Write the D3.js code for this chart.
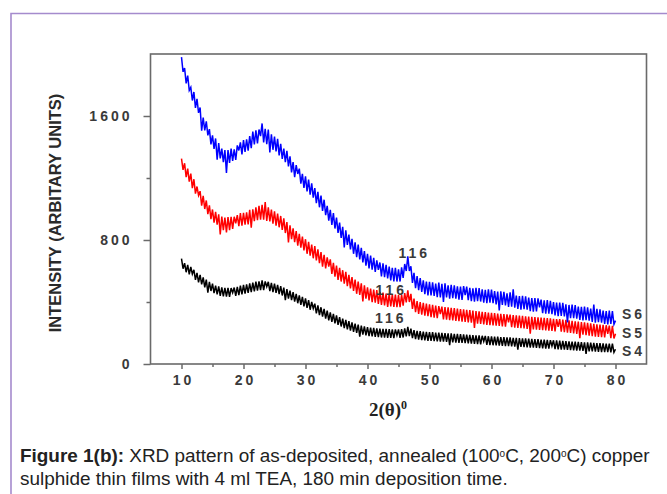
<!DOCTYPE html>
<html>
<head>
<meta charset="utf-8">
<script src="https://cdn.jsdelivr.net/npm/d3@7"></script>
<style>
  body { margin: 0; background: #fff; }
  svg { display: block; }
</style>
</head>
<body>
<script>
// 2theta sampling grid (degrees), 0.25 deg step
const twoTheta = d3.range(10, 80.001, 0.25);

// intensities (arbitrary units), 4 samples per degree
const s6 = [
  1980,1885,1910,1810, 1860,1765,1785,1700, 1755,1652,1710,1620, 1655,1545,1590,1507,
  1565,1475,1515,1417, 1475,1388,1455,1363, 1425,1327,1390,1302, 1380,1232,1380,1297,
  1390,1310,1385,1317, 1410,1343,1430,1352, 1445,1368,1450,1377, 1470,1393,1500,1417,
  1508,1423,1513,1425, 1552,1430,1518,1418, 1513,1405,1482,1382, 1467,1372,1452,1346,
  1420,1323,1390,1302, 1375,1275,1340,1236, 1302,1205,1283,1191, 1260,1163,1227,1136,
  1210,1113,1190,1092, 1165,1073,1135,1037, 1110,1011,1087,988, 1060,960,1020,925,
  995,897,973,874, 945,846,912,813, 885,787,863,769, 835,739,808,711,
  785,690,770,675, 750,656,728,634, 710,617,700,608, 685,594,668,577,
  655,565,650,560, 640,552,628,539, 620,533,620,532, 610,532,623,555,
  645,600,695,600, 630,523,588,490, 567,476,555,465, 540,451,532,443,
  530,443,527,440, 518,431,525,429, 517,431,520,429, 508,422,511,424,
  508,422,501,415, 500,413,502,415, 499,412,491,405, 488,402,491,405,
  490,403,482,395, 479,393,482,396, 480,393,471,384, 467,380,469,382,
  465,378,456,369, 462,370,452,364, 441,355,438,351, 440,353,436,350,
  428,341,425,338, 426,340,423,336, 415,328,411,324, 412,325,408,321,
  400,313,396,309, 397,310,394,307, 385,298,381,295, 383,296,380,293,
  371,285,368,281, 370,283,366,280, 358,271,354,267, 356,270,353,266,
  345,258,342,255, 344,258,342,256, 280];

const s5 = [
  1325,1253,1295,1205, 1260,1176,1228,1135, 1192,1099,1145,1058, 1115,1022,1085,1000,
  1055,967,1023,935, 997,912,982,899, 966,876,951,863, 945,849,948,864,
  950,872,950,873, 960,889,973,892, 975,899,978,901, 995,914,998,922,
  1010,928,1020,931, 1027,931,1010,923, 1010,920,996,905, 985,893,970,882,
  955,865,940,845, 915,820,895,805, 875,786,858,764, 840,751,822,733,
  805,711,788,699, 770,682,760,668, 740,651,722,628, 705,616,688,599,
  675,581,652,563, 635,543,620,532, 605,518,595,502, 575,488,560,472,
  545,453,532,446, 520,434,507,421, 495,411,487,399, 480,396,477,388,
  465,382,460,378, 455,369,452,371, 450,368,447,366, 445,366,448,377,
  458,398,475,400, 452,356,422,334, 406,323,400,318, 395,312,390,308,
  385,303,381,299, 377,295,374,292, 370,288,367,286, 365,283,362,281,
  360,278,357,276, 355,273,352,271, 350,268,347,266, 345,263,342,261,
  340,258,337,256, 335,253,332,251, 330,249,328,247, 326,245,324,243,
  322,241,320,239, 318,237,316,235, 314,233,312,231, 310,229,308,227,
  306,225,304,223, 302,221,301,220, 300,219,298,217, 296,215,294,213,
  292,211,290,210, 289,208,287,206, 285,203,282,200, 279,197,276,194,
  273,191,270,189, 268,186,265,183, 262,180,259,177, 256,175,254,173,
  252,171,250,169, 248,167,246,165, 195];

const s4 = [
  680,615,650,592, 640,579,626,560, 608,543,588,527, 575,514,559,495,
  544,481,530,471, 518,457,506,449, 501,440,495,437, 491,434,491,433,
  490,435,493,439, 498,444,505,449, 510,454,513,459, 520,464,525,469,
  532,474,533,476, 540,476,533,474, 530,470,523,464, 518,459,511,451,
  503,442,493,432, 483,422,473,412, 463,402,453,392, 443,382,433,372,
  423,362,412,350, 400,338,389,327, 378,316,366,305, 355,293,344,282,
  333,272,323,262, 313,252,303,242, 293,232,284,224, 276,216,268,208,
  260,201,254,195, 248,189,243,184, 238,180,235,178, 233,175,230,173,
  228,171,227,170, 226,169,225,168, 224,167,223,167, 223,168,225,171,
  230,178,240,180, 228,167,218,160, 214,157,212,154, 209,152,207,150,
  206,149,205,148, 203,146,202,145, 201,144,199,142, 198,141,197,140,
  195,138,194,137, 193,136,191,134, 190,133,188,131, 187,130,185,128,
  184,127,182,125, 181,124,179,122, 178,121,177,120, 176,119,174,117,
  173,116,172,115, 171,114,169,112, 168,111,167,110, 166,109,165,108,
  163,106,162,105, 161,104,160,103, 158,101,157,100, 156,99,154,98,
  153,96,152,95, 150,93,149,92, 148,91,146,89, 145,88,144,87,
  143,86,141,84, 140,83,139,82, 138,81,137,80, 135,78,134,77,
  133,76,132,76, 131,75,131,75, 95];

// extra jitter read as spikes along the traces (2theta, intensity offset)
const spikesS6 = [[13.25, -40], [15.75, -45], [19.25, 35], [22.75, 45], [24.25, -40], [28.75, 35], [36.25, -35],
  [41.75, 30], [52.25, -30], [55.75, 30], [61.25, -35], [63.5, 30], [67.75, 30], [72.25, -30], [76.5, 30]];
const spikesS5 = [[12.75, 30], [16.25, -40], [18.75, 35], [21.25, -35], [23.5, 35], [27.25, -35], [33.75, 30],
  [39.25, -30], [51.75, 30], [57.25, -30], [62.75, 30], [66.25, -30], [70.75, 30], [74.25, -25], [78.75, 25]];
const spikesS4 = [[11.75, 20], [14.25, -20], [18.25, 25], [23.75, 25], [26.75, -20], [31.25, 20], [38.75, -18],
  [44.75, 18], [53.25, -20], [58.75, 20], [64.25, -18], [69.75, 18], [75.25, -18]];

const seriesNames = ["S6", "S5", "S4"];
const xTicks = [10, 20, 30, 40, 50, 60, 70, 80];
const xMinor = [15, 25, 35, 45, 55, 65, 75];
const yTicks = [0, 800, 1600];
const yMinor = [400, 1200];
const peakLabel = "116";

const width = 667, height = 494;
const svg = d3.select("body").append("svg")
  .attr("width", width)
  .attr("height", height);

// outer figure border (purple)
svg.append("path")
  .attr("d", "M11," + (height + 5) + "V13.5H" + (width + 5))
  .attr("fill", "none")
  .attr("stroke", "#a58bcd")
  .attr("stroke-width", 1.6);

// scales
const x = d3.scaleLinear().domain([5, 85]).range([150.5, 646.5]);
const y = d3.scaleLinear().domain([0, 2000]).range([364, 54]);

const axisColor = "#6a6a6a";
const tickFont = "'Liberation Sans', Arial, sans-serif";

// clip for the curves
svg.append("clipPath").attr("id", "plotclip")
  .append("rect")
  .attr("x", x(5)).attr("y", y(2000))
  .attr("width", x(85) - x(5)).attr("height", y(0) - y(2000));

// apply the spike list onto the sampled values
function withSpikes(values, spikes) {
  const out = values.slice();
  spikes.forEach(([t, dv]) => {
    const i = twoTheta.indexOf(t);
    if (i >= 0) out[i] += dv;
  });
  return out;
}

const series = [
  { name: seriesNames[0], values: withSpikes(s6, spikesS6), color: "#0000ff" },
  { name: seriesNames[1], values: withSpikes(s5, spikesS5), color: "#ff0000" },
  { name: seriesNames[2], values: withSpikes(s4, spikesS4), color: "#000000" }
];

const line = d3.line()
  .x((d, i) => x(twoTheta[i]))
  .y(d => y(d));

const curves = svg.append("g").attr("clip-path", "url(#plotclip)");
series.slice().reverse().forEach(s => {
  curves.append("path")
    .datum(s.values)
    .attr("d", line)
    .attr("fill", "none")
    .attr("stroke", s.color)
    .attr("stroke-width", 1.5);
});

// frame
svg.append("rect")
  .attr("x", x(5)).attr("y", y(2000))
  .attr("width", x(85) - x(5)).attr("height", y(0) - y(2000))
  .attr("fill", "none")
  .attr("stroke", axisColor)
  .attr("stroke-width", 1.6);

// x axis
const gx = svg.append("g").attr("transform", "translate(0," + y(0) + ")")
  .call(d3.axisBottom(x).tickValues(xTicks).tickSize(5).tickPadding(6).tickFormat(d3.format("d")));
const gxm = svg.append("g").attr("transform", "translate(0," + y(0) + ")")
  .call(d3.axisBottom(x).tickValues(xMinor).tickSize(3).tickFormat(""));

// y axis
const gy = svg.append("g").attr("transform", "translate(" + x(5) + ",0)")
  .call(d3.axisLeft(y).tickValues(yTicks).tickSize(7).tickPadding(11).tickFormat(d3.format("d")));
const gym = svg.append("g").attr("transform", "translate(" + x(5) + ",0)")
  .call(d3.axisLeft(y).tickValues(yMinor).tickSize(4).tickFormat(""));

[gx, gxm, gy, gym].forEach(g => {
  g.select(".domain").remove();
  g.selectAll(".tick line").attr("stroke", axisColor).attr("stroke-width", 1.5);
  g.selectAll(".tick text")
    .attr("fill", "#3a3a3a")
    .style("font-family", tickFont)
    .style("font-weight", "bold")
    .style("font-size", "14px")
    .style("letter-spacing", "3px");
});
gx.selectAll(".tick text").attr("dx", "1.5px");

// axis titles
svg.append("text")
  .attr("transform", "translate(61," + 213 + ") rotate(-90)")
  .attr("text-anchor", "middle")
  .style("font-family", tickFont)
  .style("font-weight", "bold")
  .style("font-size", "16.5px")
  .attr("fill", "#2a2a2a")
  .text("INTENSITY (ARBITARY UNITS)");

const xt = svg.append("text")
  .attr("x", 388).attr("y", 416)
  .attr("text-anchor", "middle")
  .style("font-family", "'Liberation Serif', 'Times New Roman', serif")
  .style("font-weight", "bold")
  .style("font-size", "19px")
  .attr("fill", "#222");
xt.append("tspan").text("2(\u03b8)");
xt.append("tspan").attr("dy", "-7").style("font-size", "12px").text("0");

// peak labels
const labelStyle = sel => sel
  .style("font-family", tickFont)
  .style("font-weight", "bold")
  .style("font-size", "14px")
  .style("letter-spacing", "3px")
  .attr("fill", "#3a3a3a");

[[47.3, 716], [43.6, 480], [43.5, 300]].forEach(p => {
  svg.append("text")
    .attr("x", x(p[0]) + 1.5).attr("y", y(p[1]) + 5)
    .attr("text-anchor", "middle")
    .call(labelStyle)
    .text(peakLabel);
});

// series labels at right end
const endY = [313.5, 333, 351];
series.forEach((s, i) => {
  svg.append("text")
    .attr("x", 622).attr("y", endY[i] + 5)
    .call(labelStyle)
    .text(s.name);
});

// caption
const cap = svg.append("g")
  .style("font-family", "'Liberation Sans', Arial, sans-serif")
  .attr("fill", "#222");
const l1 = cap.append("text").attr("x", 20).attr("y", 462).style("font-size", "16px");
l1.append("tspan").style("font-weight", "bold").text("Figure 1(b):");
l1.append("tspan").text(" XRD pattern of as-deposited, annealed (100");
l1.append("tspan").attr("dy", -5).style("font-size", "10px").text("o");
l1.append("tspan").attr("dy", 5).text("C, 200");
l1.append("tspan").attr("dy", -5).style("font-size", "10px").text("o");
l1.append("tspan").attr("dy", 5).text("C) copper");
const l2 = cap.append("text").attr("x", 20).attr("y", 485).style("font-size", "16px")
  .text("sulphide thin films with 4 ml TEA, 180 min deposition time.");

// fit caption to the width seen in the figure
const w1 = l1.node().getComputedTextLength();
const fs = 16 * 632 / w1;
l1.style("font-size", fs + "px");
l2.style("font-size", fs + "px");
</script>
</body>
</html>
